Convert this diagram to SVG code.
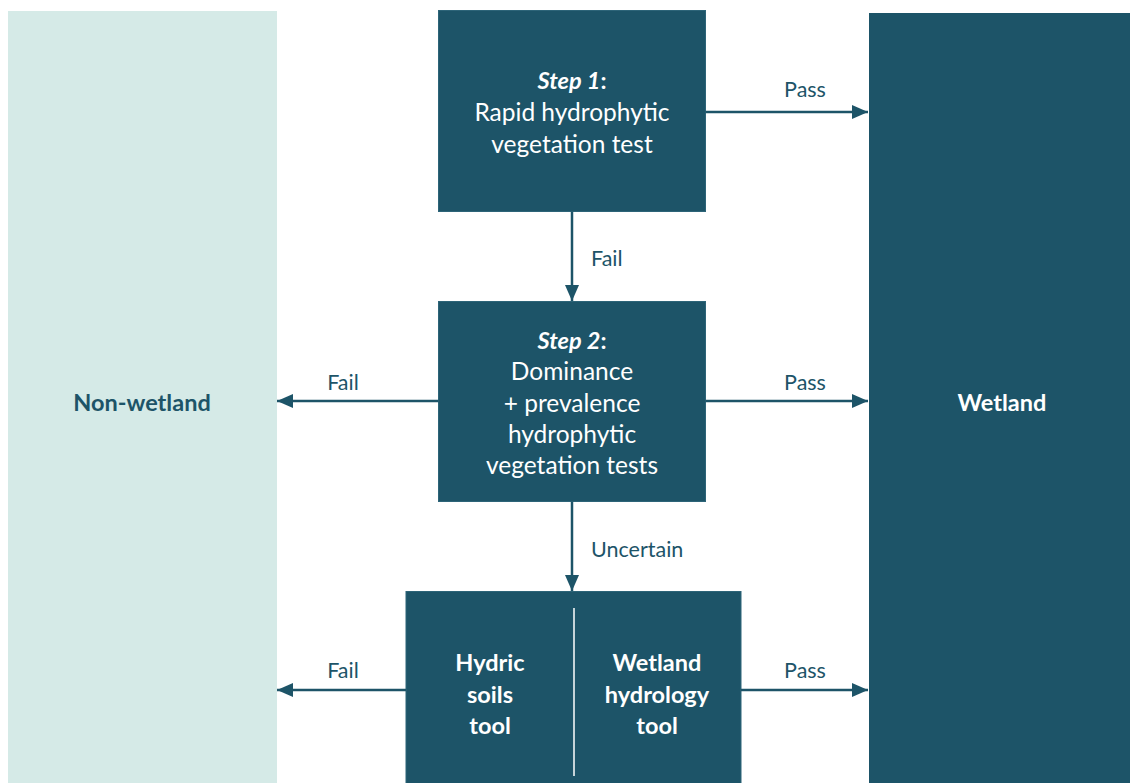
<svg xmlns="http://www.w3.org/2000/svg" width="1130" height="783" viewBox="0 0 1130 783">
<defs>
<style>
.box{fill:#1d5468;stroke:#2d6478;stroke-width:1}
.t{font-family:Lato,"Liberation Sans",sans-serif;font-size:24.5px;fill:#ffffff;text-anchor:middle}
.b{font-weight:bold;font-size:23.5px}
.lbl{font-family:Lato,"Liberation Sans",sans-serif;font-size:21.5px;fill:#1d5468}
.c{stroke:#1d5468;stroke-width:2.5;fill:none}
</style>
<marker id="ah" viewBox="0 0 16 14" refX="16" refY="7" markerWidth="16" markerHeight="14" markerUnits="userSpaceOnUse" orient="auto">
<path d="M0,0 L16,7 L0,14 Z" fill="#1d5468"/>
</marker>
</defs>
<rect width="1130" height="783" fill="#ffffff"/>
<g id="non-wetland">
<rect x="8" y="11" width="269" height="772" fill="#d5eae7"/>
<text class="t b" x="142" y="411" style="fill:#1d5468">Non-wetland</text>
</g>
<g id="wetland">
<rect x="869" y="13" width="261" height="770" fill="#1d5468"/>
<text class="t b" x="1002" y="411">Wetland</text>
</g>
<g id="step1">
<rect class="box" x="438.5" y="10.5" width="267" height="201"/>
<text class="t" x="572" y="89"><tspan class="b" font-style="italic">Step 1</tspan><tspan class="b">:</tspan></text>
<text class="t" x="572" y="121">Rapid hydrophytic</text>
<text class="t" x="572" y="153">vegetation test</text>
</g>
<g id="step2">
<rect class="box" x="438.5" y="301.5" width="267" height="200"/>
<text class="t" x="572" y="349"><tspan class="b" font-style="italic">Step 2</tspan><tspan class="b">:</tspan></text>
<text class="t" x="572" y="380">Dominance</text>
<text class="t" x="572" y="412">+ prevalence</text>
<text class="t" x="572" y="443">hydrophytic</text>
<text class="t" x="572" y="474">vegetation tests</text>
</g>
<g id="tools">
<rect class="box" x="406" y="591.5" width="335" height="192"/>
<line x1="574" y1="608" x2="574" y2="776" stroke="#ffffff" stroke-width="1.5"/>
<text class="t b" x="490" y="671">Hydric</text>
<text class="t b" x="490" y="703">soils</text>
<text class="t b" x="490" y="734">tool</text>
<text class="t b" x="657" y="671">Wetland</text>
<text class="t b" x="657" y="703">hydrology</text>
<text class="t b" x="657" y="734">tool</text>
</g>
<g id="connectors">
<line class="c" x1="705.5" y1="112" x2="868" y2="112" marker-end="url(#ah)"/>
<line class="c" x1="572" y1="211.5" x2="572" y2="301" marker-end="url(#ah)"/>
<line class="c" x1="438.5" y1="401" x2="277" y2="401" marker-end="url(#ah)"/>
<line class="c" x1="705.5" y1="401" x2="868" y2="401" marker-end="url(#ah)"/>
<line class="c" x1="572" y1="501.5" x2="572" y2="591" marker-end="url(#ah)"/>
<line class="c" x1="406" y1="690" x2="277" y2="690" marker-end="url(#ah)"/>
<line class="c" x1="741" y1="690" x2="868" y2="690" marker-end="url(#ah)"/>
<text class="lbl" x="805" y="97" text-anchor="middle">Pass</text>
<text class="lbl" x="591" y="266">Fail</text>
<text class="lbl" x="343" y="390" text-anchor="middle">Fail</text>
<text class="lbl" x="805" y="390" text-anchor="middle">Pass</text>
<text class="lbl" x="591" y="557">Uncertain</text>
<text class="lbl" x="343" y="678" text-anchor="middle">Fail</text>
<text class="lbl" x="805" y="678" text-anchor="middle">Pass</text>
</g>
</svg>
